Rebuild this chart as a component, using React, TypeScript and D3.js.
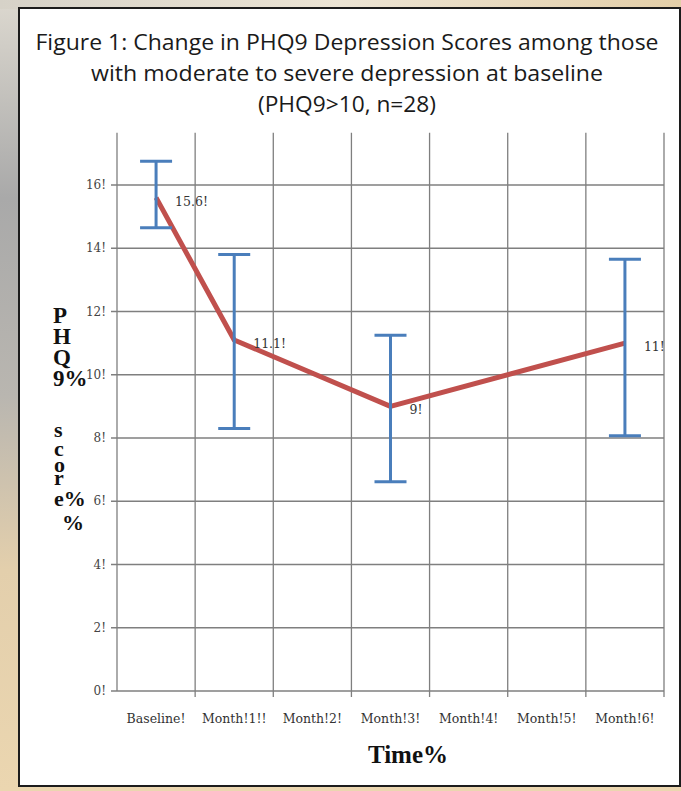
import React from 'react';
import * as d3 from 'd3';

// axis categories (labels kept as printed, with the broken glyphs)
const categories = ['Baseline!', 'Month!1!!', 'Month!2!', 'Month!3!', 'Month!4!', 'Month!5!', 'Month!6!'];
const yTicks = [0, 2, 4, 6, 8, 10, 12, 14, 16];

// measured points
const pointCategories = ['Baseline!', 'Month!1!!', 'Month!3!', 'Month!6!'];
const means = [15.6, 11.1, 9, 11];
const upper = [16.75, 13.8, 11.25, 13.65];
const lower = [14.65, 8.3, 6.62, 8.07];
const pointLabels = ['15.6!', '11.1!', '9!', '11!'];

const titleLines = [
  'Figure 1: Change in PHQ9 Depression Scores among those',
  'with moderate to severe depression at baseline',
  '(PHQ9>10, n=28)',
];
const titleWidths = [623, 512, 178];
const yTitleTop = ['P', 'H', 'Q', '9%'];
const yTitleBottom = ['s', 'c', 'o', 'r', 'e%', '%'];

const W = 681;
const H = 791;

const App = () => {
  const x = d3.scaleBand().domain(categories).range([117, 664]);
  const y = d3.scaleLinear().domain([0, 16]).range([691, 185]);
  const gridTop = y(17.65);
  const cx = (c: string) => (x(c) as number) + x.bandwidth() / 2;

  const line = d3.line<number>()
    .x((_, i) => cx(pointCategories[i]))
    .y(d => y(d));

  const edges = categories.map(c => x(c) as number).concat([x.range()[1]]);
  const serif = '"Liberation Serif", "DejaVu Serif", serif';
  const wideSerif = '"DejaVu Serif", serif';
  const sans = '"Open Sans", "Noto Sans", sans-serif';
  const lowerSteps = [0, 19, 16, 13, 21, 24];

  return (
    <svg width={W} height={H} style={{ position: 'absolute', left: 0, top: 0 }}>
      <defs>
        <linearGradient id="bgLeft" x1="0" y1="0" x2="0" y2="1">
          <stop offset="0" stopColor="#dcd8cf" />
          <stop offset="0.25" stopColor="#a9a9a9" />
          <stop offset="0.5" stopColor="#b9b6b0" />
          <stop offset="0.72" stopColor="#e3cfac" />
          <stop offset="1" stopColor="#ebd6b0" />
        </linearGradient>
        <linearGradient id="bgTop" x1="0" y1="0" x2="1" y2="0">
          <stop offset="0" stopColor="#d6d2c8" />
          <stop offset="0.5" stopColor="#ece4d4" />
          <stop offset="1" stopColor="#e4cfa8" />
        </linearGradient>
      </defs>
      <rect x={0} y={0} width={W} height={H} fill="url(#bgLeft)" />
      <rect x={0} y={0} width={W} height={9} fill="url(#bgTop)" />
      <rect x={19} y={8} width={661} height={778} fill="#ffffff" stroke="#1c1c1c" strokeWidth={2} />

      {/* title */}
      {titleLines.map((t, i) => (
        <text key={t} x={347} y={50 + i * 31} textAnchor="middle" fontFamily={sans}
          fontSize={21.5} fill="#1a1a1a" textLength={titleWidths[i]}
          lengthAdjust="spacingAndGlyphs">{t}</text>
      ))}

      {/* grid */}
      {yTicks.map(v => (
        <line key={'h' + v} x1={111} x2={x.range()[1]} y1={y(v)} y2={y(v)}
          stroke="#7f7f7f" strokeWidth={1.3} />
      ))}
      {edges.map((e, i) => (
        <line key={'v' + i} x1={e} x2={e} y1={gridTop} y2={y(0) + (i === 0 ? 0 : 6)}
          stroke="#7f7f7f" strokeWidth={1.3} />
      ))}

      {/* y tick labels */}
      {yTicks.map(v => (
        <text key={'t' + v} x={106} y={y(v) + 4} textAnchor="end" fontFamily={wideSerif}
          fontSize={12} fill="#444">{v + '!'}</text>
      ))}

      {/* x tick labels */}
      {categories.map(c => (
        <text key={c} x={cx(c)} y={723} textAnchor="middle" fontFamily={wideSerif}
          fontSize={12.5} fill="#333">{c}</text>
      ))}

      {/* axis titles */}
      <text x={408} y={763} textAnchor="middle" fontFamily={serif} fontWeight="bold"
        fontSize={25} fill="#111">Time%</text>
      <text fontFamily={serif} fontWeight="bold" fontSize={23} fill="#111">
        {yTitleTop.map((s, i) => (
          <tspan key={'a' + i} x={53} y={323 + i * 21}>{s}</tspan>
        ))}
      </text>
      <text fontFamily={serif} fontWeight="bold" fontSize={22} fill="#111">
        {yTitleBottom.map((s, i) => (
          <tspan key={'b' + i} x={i === 5 ? 62 : 54}
            y={437 + lowerSteps.slice(0, i + 1).reduce((a, b) => a + b, 0)}>{s}</tspan>
        ))}
      </text>

      {/* mean line */}
      <path d={line(means) || ''} fill="none" stroke="#c0504d" strokeWidth={5}
        strokeLinejoin="round" />

      {/* error bars */}
      {pointCategories.map((c, i) => (
        <g key={'e' + c} stroke="#4a7ebb" strokeWidth={3}>
          <line x1={cx(c)} x2={cx(c)} y1={y(upper[i])} y2={y(lower[i])} />
          <line x1={cx(c) - 16} x2={cx(c) + 16} y1={y(upper[i])} y2={y(upper[i])} />
          <line x1={cx(c) - 16} x2={cx(c) + 16} y1={y(lower[i])} y2={y(lower[i])} />
        </g>
      ))}

      {/* point labels */}
      {pointCategories.map((c, i) => (
        <text key={'l' + c} x={cx(c) + 19} y={y(means[i]) + 8} fontFamily={wideSerif}
          fontSize={12.5} fill="#333">{pointLabels[i]}</text>
      ))}
    </svg>
  );
};

export default App;
